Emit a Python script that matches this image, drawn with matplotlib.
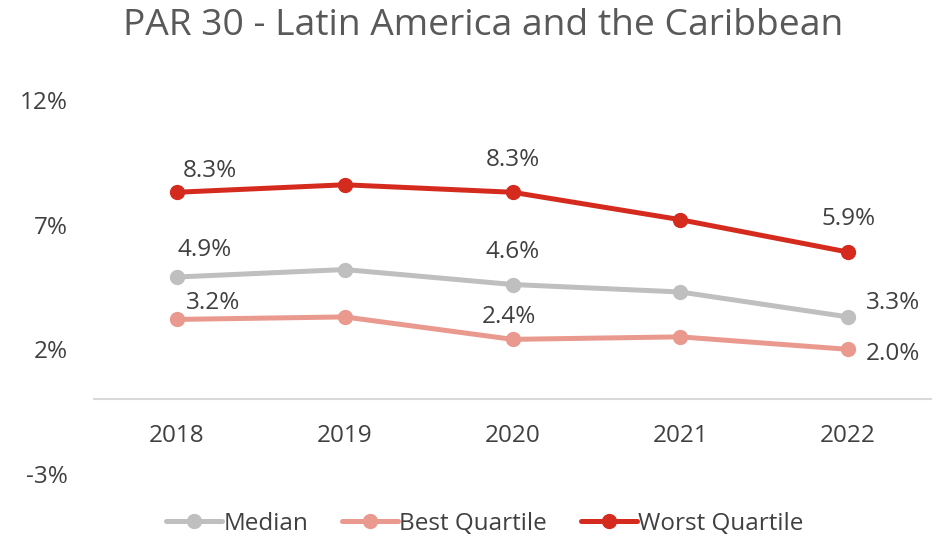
import matplotlib.pyplot as plt

plt.rcParams['font.family'] = ['Open Sans', 'DejaVu Sans']

years = ['2018', '2019', '2020', '2021', '2022']
median = [4.9, 5.2, 4.6, 4.3, 3.3]
best = [3.2, 3.3, 2.4, 2.5, 2.0]
worst = [8.3, 8.6, 8.3, 7.2, 5.9]

# which points get a data label, and where (pixel offsets)
median_labels = {0: (28, 27, 'center'), 2: (0, 33, 'center'), 4: (18, 14, 'left')}
best_labels = {0: (36, 16, 'center'), 2: (-4, 22, 'center'), 4: (18, -5, 'left')}
worst_labels = {0: (33, 21, 'center'), 2: (0, 32, 'center'), 4: (0, 33, 'center')}

text_col = '#404040'
fs = 17.5

fig = plt.figure(figsize=(9.41, 5.38), dpi=100)
ax = fig.add_axes([93 / 941, 1 - 474 / 538, (932 - 93) / 941, 374 / 538])

x = list(range(len(years)))
series = [
    ('Median', median, '#BFBFBF', median_labels),
    ('Best Quartile', best, '#EA998F', best_labels),
    ('Worst Quartile', worst, '#D52B1E', worst_labels),
]
for name, vals, col, labs in series:
    ax.plot(x, vals, color=col, lw=3.6, marker='o', ms=10, label=name,
            solid_capstyle='round')
    for i, (dx, dy, ha) in labs.items():
        ax.annotate(f'{vals[i]:.1f}%', (x[i], vals[i]), xytext=(dx, dy),
                    textcoords='offset pixels', ha=ha, va='center',
                    fontsize=fs, color=text_col)

ax.set_xlim(-0.5, len(years) - 0.5)
ax.set_ylim(-3, 12)
ax.set_yticks([-3, 2, 7, 12])
ax.set_yticklabels(['-3%', '2%', '7%', '12%'])
ax.axhline(0, color='#D9D9D9', lw=1.5, zorder=0)
for s in ax.spines.values():
    s.set_visible(False)
ax.tick_params(length=0, labelsize=fs, labelcolor=text_col)
ax.tick_params(axis='y', pad=18)
ax.set_xticks([])

# category labels hang under the zero line, not the bottom of the axes
for i, yr in enumerate(years):
    ax.annotate(yr, (i, 0), xytext=(0, -37), textcoords='offset pixels',
                ha='center', va='center', fontsize=fs, color=text_col)

fig.text(483 / 941, 1 - 26 / 538, 'PAR 30 - Latin America and the Caribbean',
         ha='center', va='center', fontsize=26.8, color='#595959')

fig.legend(loc='center', bbox_to_anchor=(485 / 941, 1 - 524 / 538), ncol=3,
           frameon=False, fontsize=fs, labelcolor=text_col, handlelength=2.3,
           handletextpad=0.05, columnspacing=1.4, borderaxespad=0)

fig.savefig('out.png', dpi=100)
